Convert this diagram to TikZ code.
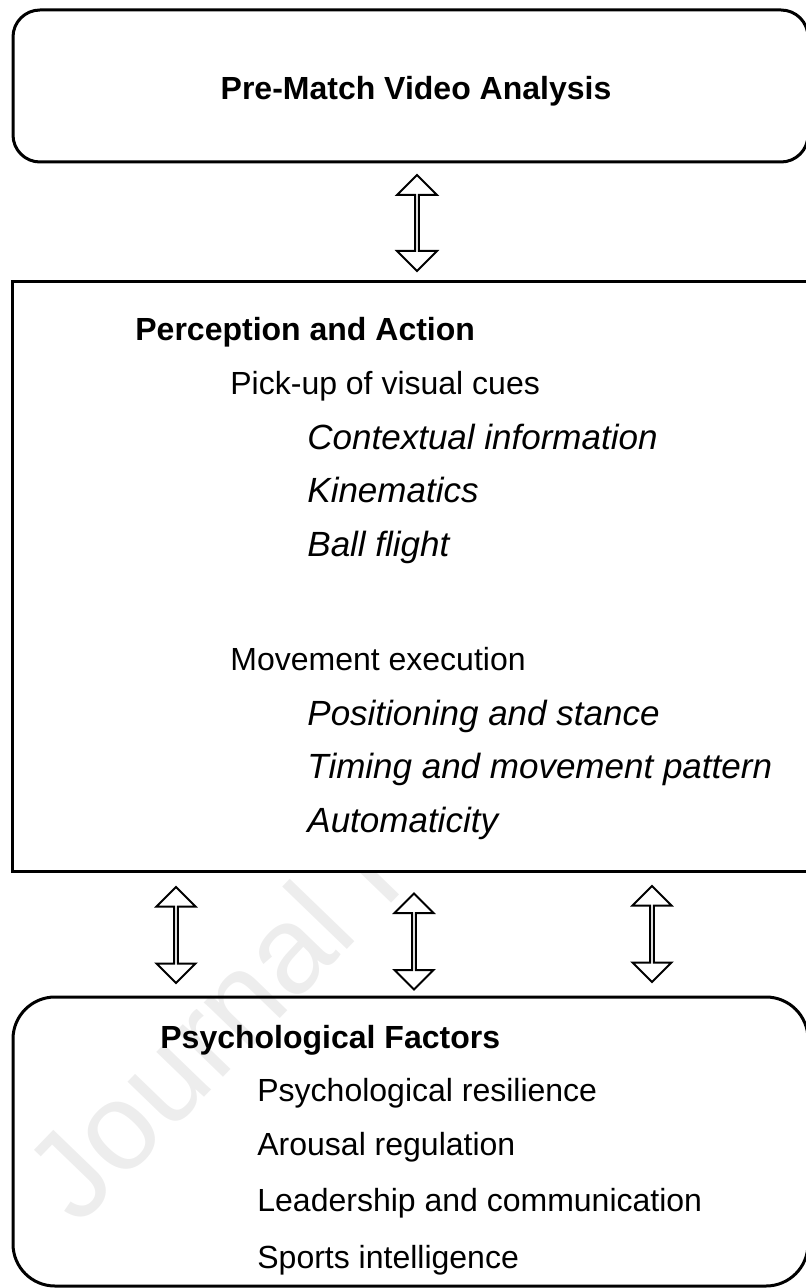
\documentclass[tikz,border=0pt]{standalone}
\usepackage{fontspec}
\setmainfont{Liberation Sans}
\usetikzlibrary{shapes.arrows}

\begin{document}
\begin{tikzpicture}[x=0.5pt,y=-0.5pt,
		frame/.style={draw, line width=1.5pt, inner sep=0pt},
		dblarrow/.style={double arrow, draw, fill=white, line width=1pt, rotate=90, inner sep=0pt,
			minimum height=48pt, minimum width=19.5pt, double arrow head extend=5pt, double arrow tip angle=90},
		txt/.style={anchor=base west, inner sep=0pt, font=\fontsize{16pt}{19pt}\selectfont},
		head/.style={txt, font=\fontsize{16pt}{19pt}\selectfont\bfseries},
		item/.style={txt, font=\fontsize{17.5pt}{21pt}\selectfont\itshape}]
		\useasboundingbox (0,0) rectangle (805,1288);
%		watermark, partly hidden by the boxes
		\node[txt, anchor=base west, rotate=46, text=gray!14, font=\fontsize{62pt}{63pt}\selectfont] (wm) at (78,1228) {Journal Pre-proof};
%		boxes
		\node[frame, fill=white, rounded corners=13.5pt, minimum width=397.5pt, minimum height=76pt] (video) at (410.5,86) {};
		\node[frame, fill=white, minimum width=402pt, minimum height=294.5pt] (percept) at (414,576.5) {};
		\node[frame, rounded corners=21pt, minimum width=397.5pt, minimum height=144.5pt] (psych) at (410.5,1141.5) {};
%		
		\node[head, anchor=base] (vt) at (416,100) {Pre-Match Video Analysis};
%		
		\node[head] (pt) at (135,341) {Perception and Action};
		\node[txt] (cues) at (230,394) {Pick-up of visual cues};
		\node[item] (ctx) at (307,449) {Contextual information};
		\node[item] (kin) at (307,502) {Kinematics};
		\node[item] (ball) at (307,556) {Ball flight};
		\node[txt] (move) at (230,670) {Movement execution};
		\node[item] (pos) at (307,725) {Positioning and stance};
		\node[item] (tim) at (307,778) {Timing and movement pattern};
		\node[item] (auto) at (307,832) {Automaticity};
%		
		\node[head] (ft) at (160,1048) {Psychological Factors};
		\node[txt] (res) at (257,1101) {Psychological resilience};
		\node[txt] (aro) at (257,1155) {Arousal regulation};
		\node[txt] (lead) at (257,1211) {Leadership and communication};
		\node[txt] (intl) at (257,1268) {Sports intelligence};
%		arrows
		\node[dblarrow, minimum width=20pt] (a0) at (417,223) {};
		\node[dblarrow] (a1) at (176,935) {};
		\node[dblarrow] (a2) at (414,941.5) {};
		\node[dblarrow] (a3) at (652,934) {};
	\end{tikzpicture}
\end{document}
